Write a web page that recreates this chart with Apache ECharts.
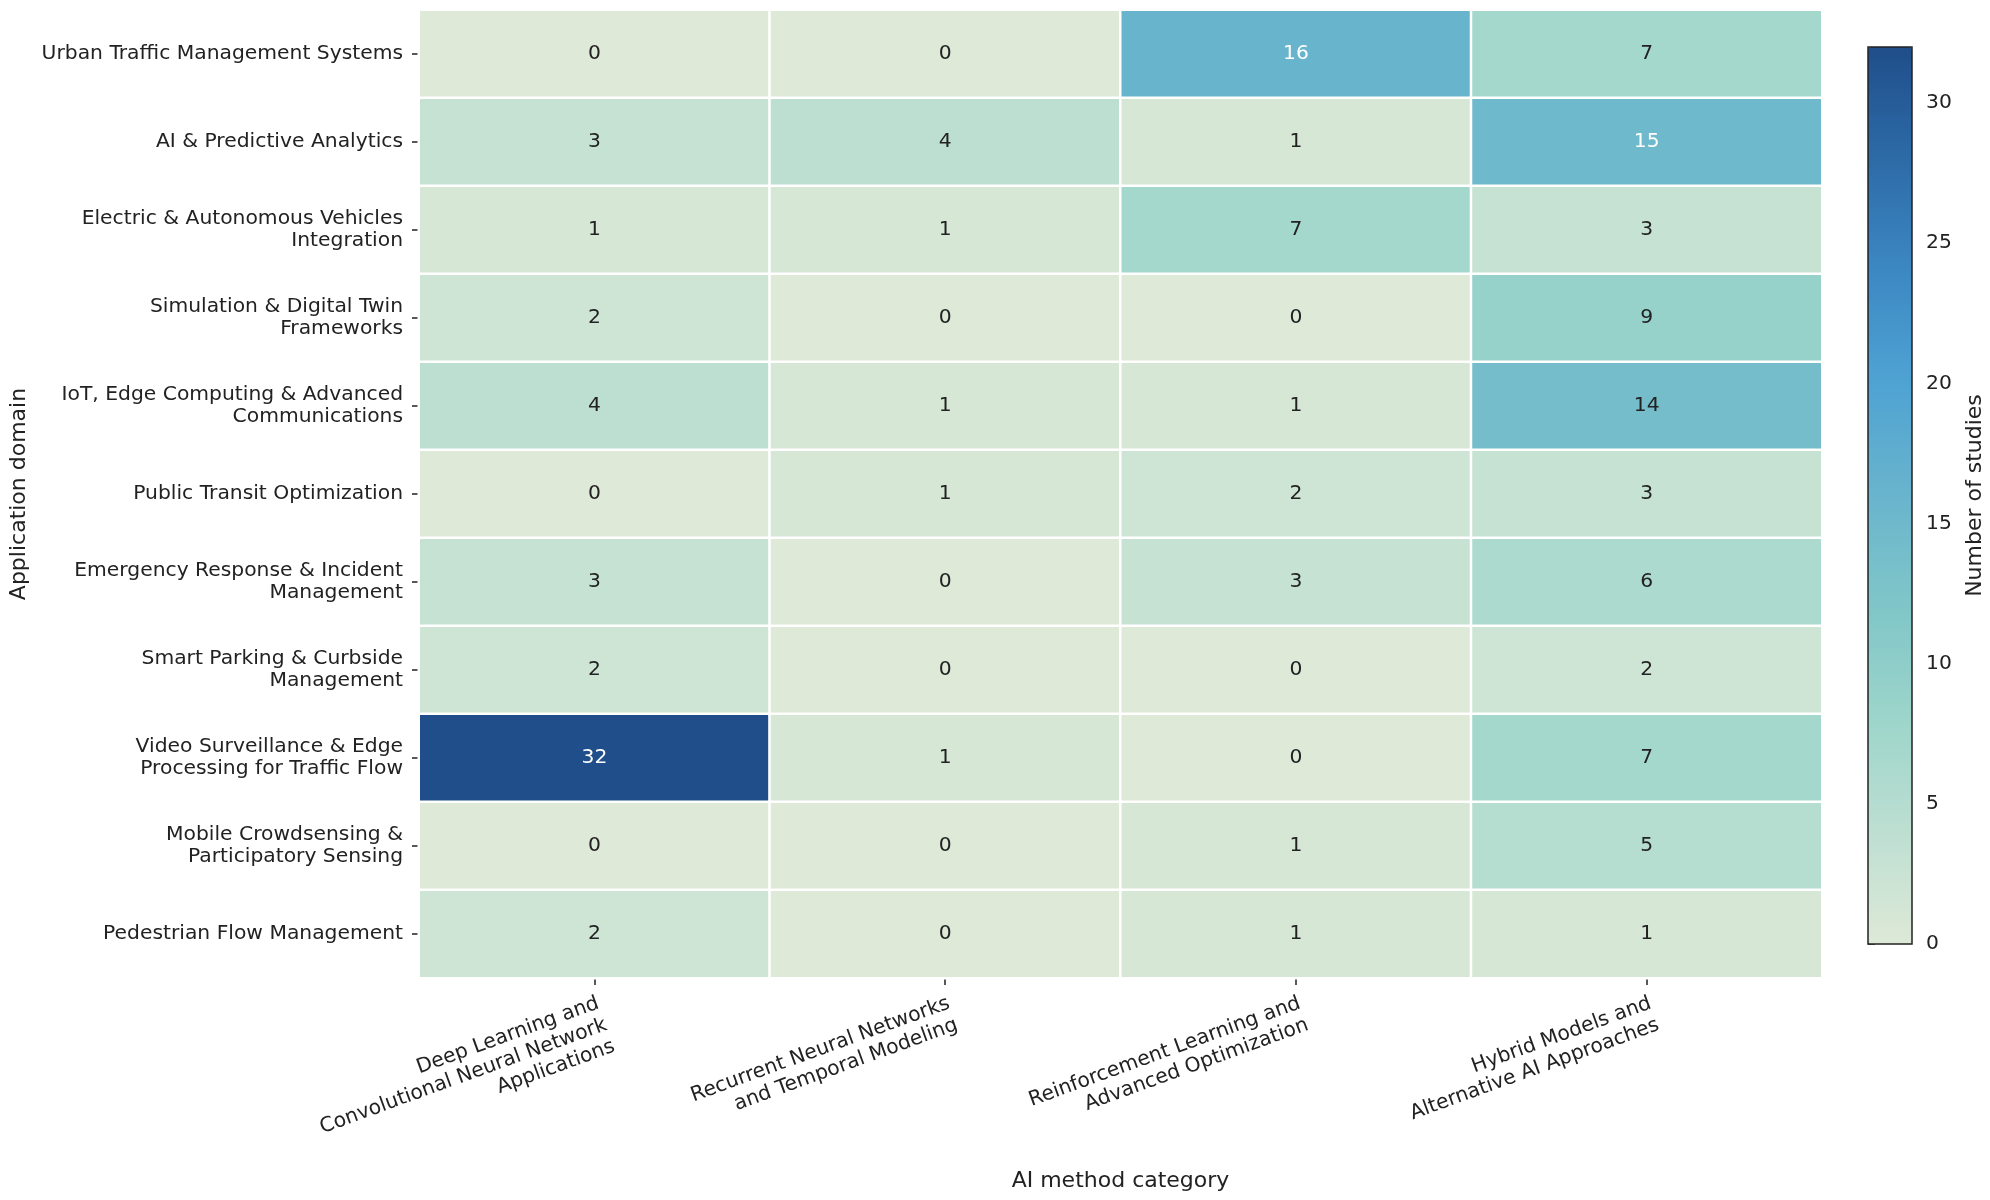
<!DOCTYPE html>
<html>
<head>
<meta charset="utf-8">
<script src="https://cdn.jsdelivr.net/npm/echarts@6/dist/echarts.min.js"></script>
<style>html,body{margin:0;padding:0;background:#fff}#c{width:1990px;height:1200px}</style>
</head>
<body>
<div id="c"></div>
<script>
// Application domains (rows, top to bottom)
const domains = [
  'Urban Traffic Management Systems',
  'AI & Predictive Analytics',
  'Electric & Autonomous Vehicles\nIntegration',
  'Simulation & Digital Twin\nFrameworks',
  'IoT, Edge Computing & Advanced\nCommunications',
  'Public Transit Optimization',
  'Emergency Response & Incident\nManagement',
  'Smart Parking & Curbside\nManagement',
  'Video Surveillance & Edge\nProcessing for Traffic Flow',
  'Mobile Crowdsensing &\nParticipatory Sensing',
  'Pedestrian Flow Management'
];
// AI method categories (columns)
const methods = [
  'Deep Learning and\nConvolutional Neural Network\nApplications',
  'Recurrent Neural Networks\nand Temporal Modeling',
  'Reinforcement Learning and\nAdvanced Optimization',
  'Hybrid Models and\nAlternative AI Approaches'
];
// Number of studies per column (one value per domain, same order)
const deepLearning = [0, 3, 1, 2, 4, 0, 3, 2, 32, 0, 2];
const recurrent    = [0, 4, 1, 0, 1, 1, 0, 0, 1, 0, 0];
const reinforcement= [16, 1, 7, 0, 1, 2, 3, 0, 0, 1, 1];
const hybrid       = [7, 15, 3, 9, 14, 3, 6, 2, 7, 5, 1];
// Colorbar tick labels
const colorbarTicks = [0, 5, 10, 15, 20, 25, 30];
const colorMin = 0, colorMax = 32;
// Colormap stops (evenly spaced from min to max)
const cmapColors = ['#dee9d7', '#bddfd2', '#9dd5ca', '#80c6c8', '#69b4cd', '#4fa3d3', '#3c88c3', '#2d6ba7', '#1f4e8a'];

const FONT = 'DejaVu Sans';
const TXT = '#222222';
const FS = 20.3;

const columns = [deepLearning, recurrent, reinforcement, hybrid];
const cells = [];
columns.forEach((col, xi) => {
  col.forEach((v, yi) => {
    cells.push({ value: [xi, yi, v], label: { color: v >= 15 ? '#ffffff' : TXT } });
  });
});

const chart = echarts.init(document.getElementById('c'), null, { renderer: 'canvas' });
chart.setOption({
  animation: false,
  backgroundColor: '#ffffff',
  textStyle: { fontFamily: FONT },
  grid: [
    { left: 419, top: 10, width: 1403, height: 968 },
    { left: 1868, top: 47, width: 44, height: 897, show: true, borderColor: '#222', borderWidth: 1.5, backgroundColor: 'transparent', z: 10 }
  ],
  xAxis: [
    {
      type: 'category', gridIndex: 0, data: methods, position: 'bottom',
      axisLine: { show: false },
      axisTick: { show: true, alignWithLabel: true, length: 7, lineStyle: { color: TXT, width: 1.5 } },
      axisLabel: { interval: 0, rotate: 20, align: 'right', verticalAlign: 'top', margin: 14,
                   fontSize: FS, lineHeight: 23, color: TXT, fontFamily: FONT, hideOverlap: false },
      splitLine: { show: false },
      name: 'AI method category', nameLocation: 'middle', nameGap: 192,
      nameTextStyle: { fontSize: 22, color: TXT, fontFamily: FONT }
    },
    { type: 'value', gridIndex: 1, show: false, min: 0, max: 1 }
  ],
  yAxis: [
    {
      type: 'category', gridIndex: 0, data: domains, inverse: true,
      axisLine: { show: false },
      axisTick: { show: true, alignWithLabel: true, length: 7, lineStyle: { color: TXT, width: 1.5 } },
      axisLabel: { interval: 0, margin: 16, fontSize: FS, lineHeight: 22, color: TXT, fontFamily: FONT, align: 'right', padding: [4, 0, 0, 0] },
      splitLine: { show: false },
      name: 'Application domain', nameLocation: 'middle', nameGap: 388,
      nameTextStyle: { fontSize: 22, color: TXT, fontFamily: FONT }
    },
    {
      type: 'value', gridIndex: 1, position: 'right', min: colorMin, max: colorMax,
      axisLine: { show: false },
      axisTick: { show: true, length: 7, customValues: colorbarTicks, lineStyle: { color: TXT, width: 1.5 } },
      axisLabel: { show: true, customValues: colorbarTicks, margin: 14, fontSize: FS, color: TXT, fontFamily: FONT },
      splitLine: { show: false },
      name: 'Number of studies', nameLocation: 'middle', nameGap: 52,
      nameTextStyle: { fontSize: 22, color: TXT, fontFamily: FONT }
    }
  ],
  visualMap: {
    type: 'continuous', min: colorMin, max: colorMax, seriesIndex: 0, dimension: 2,
    calculable: false, orient: 'vertical', left: 1868, top: 47,
    itemWidth: 44, itemHeight: 897, padding: 0, hoverLink: false,
    inRange: { color: cmapColors }
  },
  series: [
    {
      type: 'heatmap', xAxisIndex: 0, yAxisIndex: 0, data: cells,
      label: { show: true, fontSize: FS, fontFamily: FONT, formatter: p => String(p.value[2]) },
      itemStyle: { borderColor: '#ffffff', borderWidth: 2.5 },
      emphasis: { disabled: true }
    }
  ]
});
</script>
</body>
</html>
